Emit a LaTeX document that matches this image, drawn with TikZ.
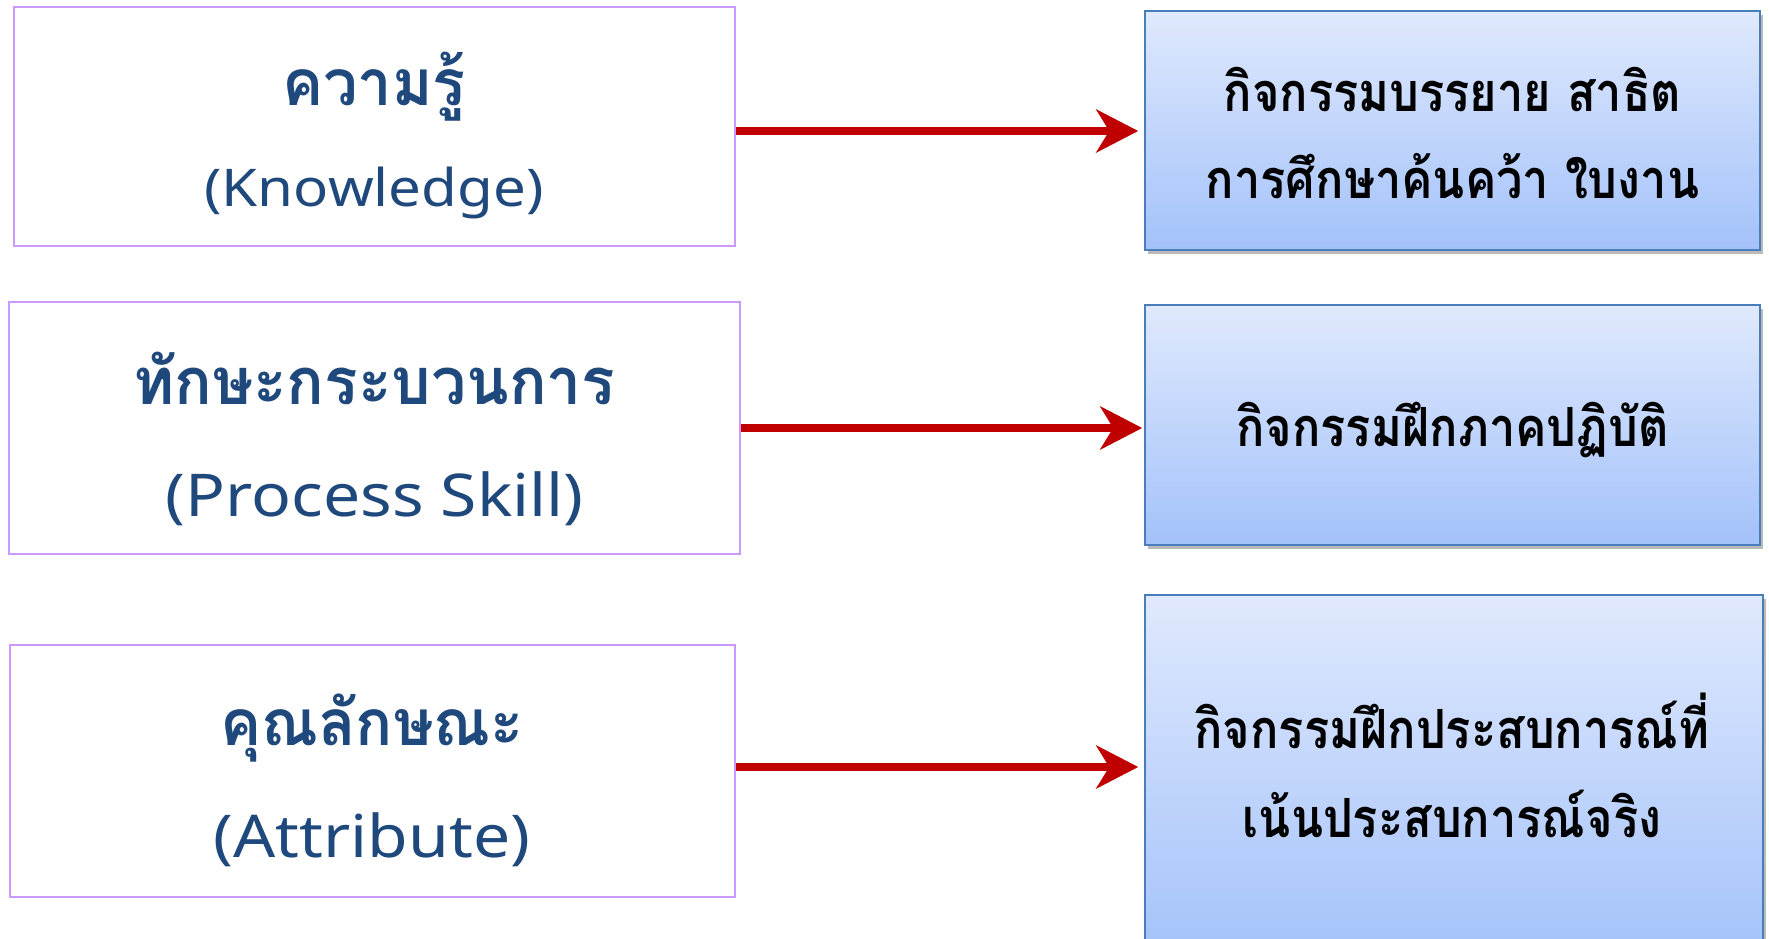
\documentclass[tikz,border=0pt]{standalone}
\usepackage{fontspec}
\newfontfamily\thaileft[Script=Thai,FakeStretch=0.96]{Loma}
\newfontfamily\thairight[Script=Thai,FakeStretch=0.87]{Loma}
\newfontfamily\latfont[FakeStretch=1.12]{Noto Sans}
\usetikzlibrary{arrows.meta,shadows,calc}
\definecolor{txtblue}{HTML}{1F497D}
\definecolor{lborder}{HTML}{CC99FF}
\definecolor{rborder}{HTML}{4A7EBB}
\definecolor{gtop}{HTML}{E0E9FD}
\definecolor{gbot}{HTML}{A3C2FA}
\definecolor{arrred}{HTML}{C00000}
\tikzset{
  leftbox/.style={draw=lborder, line width=2pt, fill=white, inner sep=0pt},
  rightbox/.style={draw=rborder, line width=1.5pt, top color=gtop, bottom color=gbot,
    inner sep=0pt,
    drop shadow={shadow xshift=3pt, shadow yshift=-4pt, opacity=0.45, fill=black!60}},
  thaitext/.style={anchor=base, inner sep=0pt, text=txtblue, font=\thaileft\bfseries\fontsize{64}{70}\selectfont},
  engtext/.style={anchor=base, inner sep=0pt, text=txtblue, font=\latfont\fontsize{52}{60}\selectfont},
  engbig/.style={engtext, font=\latfont\fontsize{59}{66}\selectfont},
  righttext/.style={anchor=base, inner sep=0pt, text=black, font=\thairight\bfseries\fontsize{54}{60}\selectfont},
  redarrow/.style={draw=arrred, line width=8pt, -{Stealth[length=42pt,width=43pt,inset=13pt]}}
}
\begin{document}
\begin{tikzpicture}[x=1pt,y=-1pt]
\useasboundingbox (0,0) rectangle (1769,939);
\clip (0,0) rectangle (1769,939);
% left boxes
\node[leftbox, minimum width=721pt, minimum height=239pt] (L1) at (374,126.5) {};
\node[leftbox, minimum width=731pt, minimum height=252pt] (L2) at (374.5,428) {};
\node[leftbox, minimum width=725pt, minimum height=252pt] (L3) at (372,771) {};
\node[thaitext] (L1a) at (374,106) {ความรู้};
\node[engtext]  (L1b) at (374,206) {(Knowledge)};
\node[thaitext, font=\thaileft\bfseries\fontsize{65}{70}\selectfont] (L2a) at (374.5,404) {ทักษะกระบวนการ};
\node[engbig]   (L2b) at (374.5,516) {(Process Skill)};
\node[thaitext] (L3a) at (372,745) {คุณลักษณะ};
\node[engbig]   (L3b) at (372,857) {(Attribute)};
% right boxes
\node[rightbox, minimum width=615pt, minimum height=239pt] (R1) at (1452.5,130.5) {};
\node[rightbox, minimum width=615pt, minimum height=240pt] (R2) at (1452.5,425) {};
\node[rightbox, minimum width=618pt, minimum height=365pt] (R3) at (1454,777.5) {};
\node[righttext] (R1a) at (1452.5,112) {กิจกรรมบรรยาย สาธิต};
\node[righttext] (R1b) at (1452.5,198) {การศึกษาค้นคว้า ใบงาน};
\node[righttext] (R2a) at (1452.5,446) {กิจกรรมฝึกภาคปฏิบัติ};
\node[righttext] (R3a) at (1452,748) {กิจกรรมฝึกประสบการณ์ที่};
\node[righttext] (R3b) at (1452,837) {เน้นประสบการณ์จริง};
% arrows
\draw[redarrow, shorten >=6pt] ([yshift=-4.5pt]L1.east) -- ([yshift=-4.5pt]L1.east -| R1.west);
\draw[redarrow, shorten >=2pt] (L2.east) -- (L2.east -| R2.west);
\draw[redarrow, shorten >=6pt] ([yshift=4pt]L3.east) -- ([yshift=4pt]L3.east -| R3.west);
\end{tikzpicture}
\end{document}
